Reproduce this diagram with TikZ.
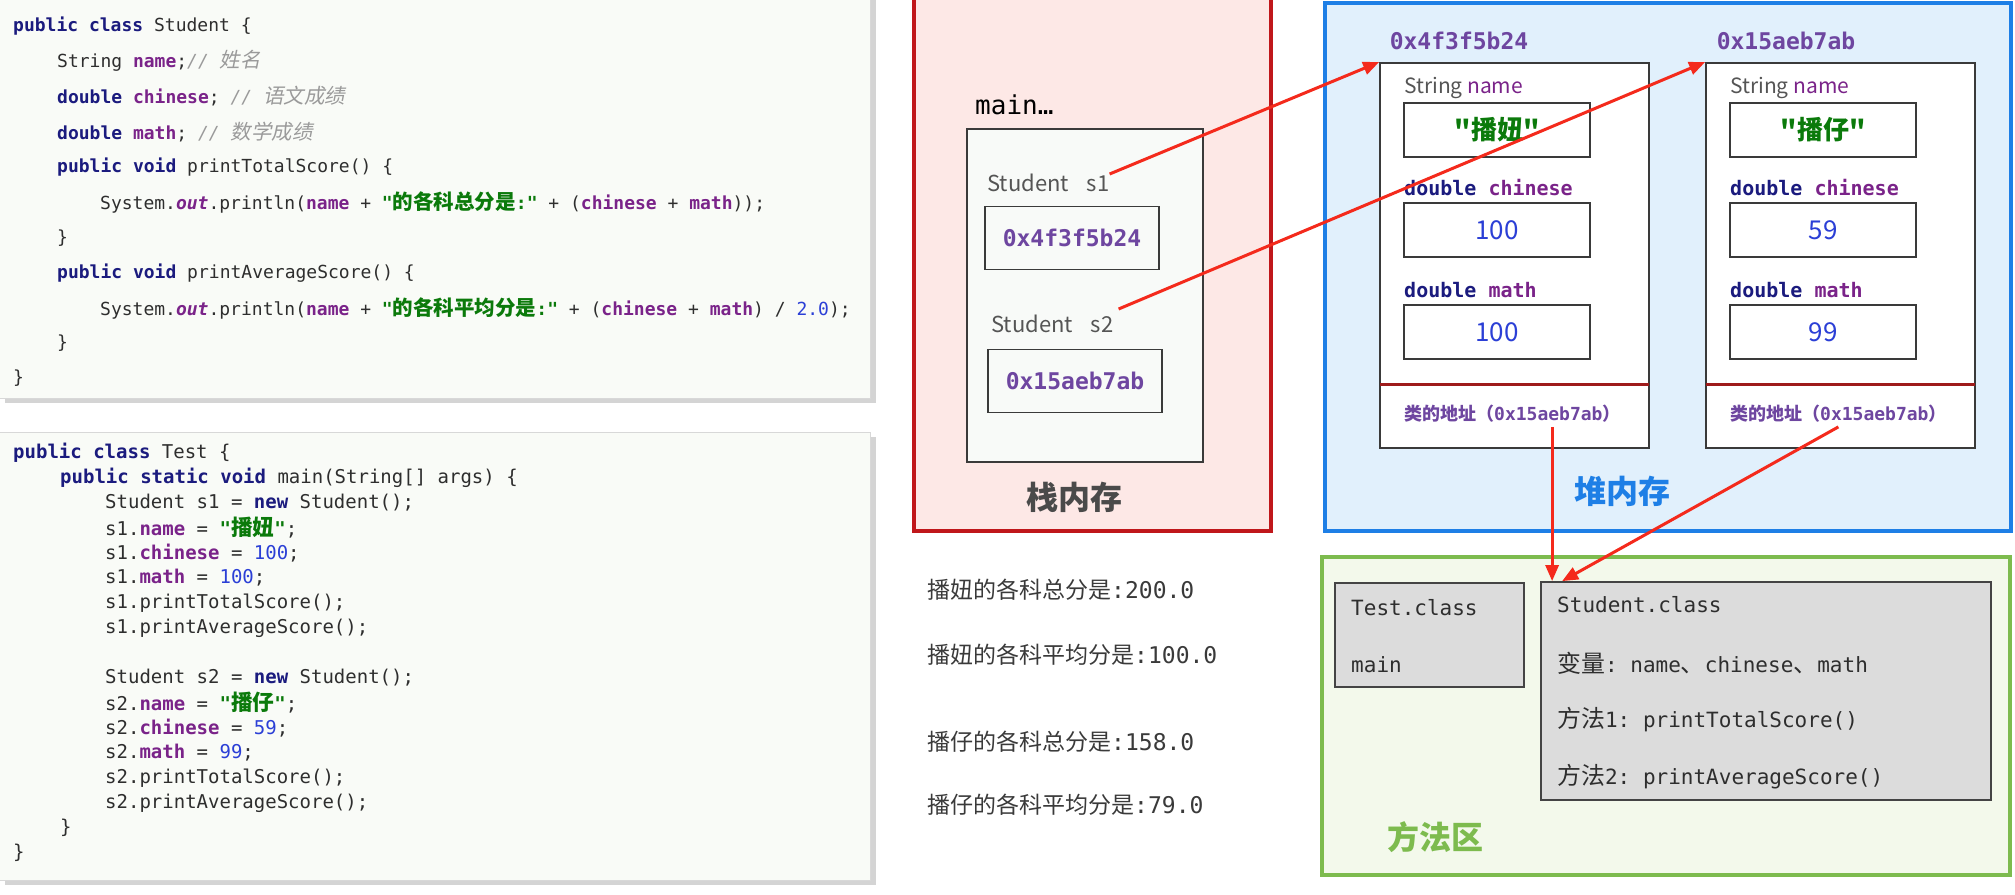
\documentclass[tikz,border=0pt]{standalone}
\usepackage{fontspec}
\setmonofont{DejaVu Sans Mono}
\newfontfamily\cjk{Noto Sans CJK SC}[AutoFakeSlant=0.2]
\newfontfamily\cjkc{Noto Sans CJK SC}[Scale=1.14,AutoFakeSlant=0.2]
\usetikzlibrary{arrows.meta}

\definecolor{stackfill}{HTML}{FDE8E6}
\definecolor{stackred}{HTML}{C0171B}
\definecolor{heapfill}{HTML}{E1F0FC}
\definecolor{heapblue}{HTML}{1E7FE6}
\definecolor{methfill}{HTML}{F3F9EB}
\definecolor{methgreen}{HTML}{7DBB4E}
\definecolor{panelfill}{HTML}{F9FBF7}
\definecolor{panelline}{HTML}{D8D8D8}
\definecolor{panelshadow}{HTML}{D4D4D4}
\definecolor{framefill}{HTML}{F8FAF8}
\definecolor{boxline}{HTML}{3A3A3A}
\definecolor{sepred}{HTML}{9E1B1B}
\definecolor{arrowred}{HTML}{F42A1C}
\definecolor{clsfill}{HTML}{DCDCDC}
\definecolor{clsline}{HTML}{444444}
\definecolor{addrpurple}{HTML}{6E46A0}
\definecolor{fdpurple}{HTML}{7A2389}
\definecolor{kwnavy}{HTML}{1B1B7E}
\definecolor{strgreen}{HTML}{0B7A0B}
\definecolor{numblue}{HTML}{2B3FD6}
\definecolor{cmtgray}{HTML}{9A9A9A}
\definecolor{codetext}{HTML}{2E2E2E}
\definecolor{lblgray}{HTML}{555555}
\definecolor{outgray}{HTML}{3A3A3A}
\definecolor{stackgray}{HTML}{4A4A4A}

\newcommand\zh[1]{{\cjk #1}}
\newcommand\zhc[1]{{\cjkc #1}}
\newcommand\kw[1]{{\bfseries\color{kwnavy}#1}}
\newcommand\fd[1]{{\bfseries\color{fdpurple}#1}}
\newcommand\strg[1]{{\bfseries\color{strgreen}#1}}
\newcommand\numb[1]{{\color{numblue}#1}}
\newcommand\cmt[1]{{\itshape\color{cmtgray}#1}}
\newcommand\outf{{\bfseries\itshape\color{fdpurple}out}}

\tikzset{
  codeA/.style={anchor=west, inner sep=0pt, text=codetext,
    font=\ttfamily\fontsize{18}{20}\selectfont},
  codeB/.style={codeA, font=\ttfamily\fontsize{19}{21}\selectfont},
  varlbl/.style={anchor=west, inner sep=0pt, text=lblgray,
    font=\cjk\fontsize{22}{24}\selectfont},
  addrbox/.style={draw=boxline, line width=1.6pt, minimum width=174pt,
    minimum height=63pt, inner sep=0pt, text=addrpurple,
    font=\ttfamily\bfseries\fontsize{23}{25}\selectfont},
  addrtxt/.style={inner sep=0pt, text=addrpurple,
    font=\ttfamily\bfseries\fontsize{23}{25}\selectfont},
  objbox/.style={draw=boxline, line width=1.8pt, fill=white,
    minimum width=269pt, minimum height=385pt, inner sep=0pt},
  valbox/.style={draw=boxline, line width=1.8pt, minimum width=186pt,
    minimum height=54pt, inner sep=0pt, text=numblue,
    font=\cjk\fontsize{26}{28}\selectfont},
  fldname/.style={anchor=west, inner sep=0pt, text=lblgray,
    font=\cjk\fontsize{21}{23}\selectfont},
  fldtype/.style={anchor=west, inner sep=0pt,
    font=\ttfamily\fontsize{20}{22}\selectfont},
  classaddr/.style={anchor=west, inner sep=0pt, text=addrpurple,
    font=\ttfamily\bfseries\fontsize{18}{20}\selectfont},
  sepline/.style={draw=sepred, line width=3pt},
  areatitle/.style={inner sep=0pt, font=\cjk\bfseries\fontsize{32}{34}\selectfont},
  clsbox/.style={draw=clsline, line width=1.8pt, fill=clsfill, inner sep=0pt},
  clstxt/.style={anchor=west, inner sep=0pt, text=codetext,
    font=\ttfamily\fontsize{21}{23}\selectfont},
  outtxt/.style={anchor=west, inner sep=0pt, text=outgray,
    font=\ttfamily\fontsize{23}{25}\selectfont},
  refarrow/.style={draw=arrowred, line width=3pt,
    -{Triangle[length=16pt,width=13pt]}},
}

\begin{document}
\begin{tikzpicture}[x=1pt,y=-1pt]
  \useasboundingbox (0,0) rectangle (2015,894);

  % code panels
  \fill[panelshadow] (5,-2) rectangle (876,403);
  \filldraw[fill=panelfill, draw=panelline] (-2,-2) rectangle (870,398);
  \fill[panelshadow] (5,437) rectangle (876,885);
  \filldraw[fill=panelfill, draw=panelline] (-2,432) rectangle (870,880);

  \node[codeA] (ca0) at (13,26) {\kw{public class} Student \{};
  \node[codeA] (ca1) at (57,61) {String \fd{name};\cmt{// \zhc{姓名}}};
  \node[codeA] (ca2) at (57,96) {\kw{double} \fd{chinese}; \cmt{// \zhc{语文成绩}}};
  \node[codeA] (ca3) at (57,132) {\kw{double} \fd{math}; \cmt{// \zhc{数学成绩}}};
  \node[codeA] (ca4) at (57,167) {\kw{public void} printTotalScore() \{};
  \node[codeA] (ca5) at (100,202) {System.\outf.println(\fd{name} + \strg{"\zhc{的各科总分是}:"} + (\fd{chinese} + \fd{math}));};
  \node[codeA] (ca6) at (57,238) {\}};
  \node[codeA] (ca7) at (57,273) {\kw{public void} printAverageScore() \{};
  \node[codeA] (ca8) at (100,308) {System.\outf.println(\fd{name} + \strg{"\zhc{的各科平均分是}:"} + (\fd{chinese} + \fd{math}) / \numb{2.0});};
  \node[codeA] (ca9) at (57,343) {\}};
  \node[codeA] (ca10) at (13,378) {\}};

  \node[codeB] (cb0) at (13,453) {\kw{public class} Test \{};
  \node[codeB] (cb1) at (60,478) {\kw{public static void} main(String[] args) \{};
  \node[codeB] (cb2) at (105,503) {Student s1 = \kw{new} Student();};
  \node[codeB] (cb3) at (105,528) {s1.\fd{name} = \strg{"\zhc{播妞}"};};
  \node[codeB] (cb4) at (105,553) {s1.\fd{chinese} = \numb{100};};
  \node[codeB] (cb5) at (105,578) {s1.\fd{math} = \numb{100};};
  \node[codeB] (cb6) at (105,603) {s1.printTotalScore();};
  \node[codeB] (cb7) at (105,628) {s1.printAverageScore();};
  \node[codeB] (cb9) at (105,678) {Student s2 = \kw{new} Student();};
  \node[codeB] (cb10) at (105,703) {s2.\fd{name} = \strg{"\zhc{播仔}"};};
  \node[codeB] (cb11) at (105,728) {s2.\fd{chinese} = \numb{59};};
  \node[codeB] (cb12) at (105,753) {s2.\fd{math} = \numb{99};};
  \node[codeB] (cb13) at (105,778) {s2.printTotalScore();};
  \node[codeB] (cb14) at (105,803) {s2.printAverageScore();};
  \node[codeB] (cb15) at (60,828) {\}};
  \node[codeB] (cb16) at (13,853) {\}};

  % stack
  \filldraw[fill=stackfill, draw=stackred, line width=4pt] (914,-6) rectangle (1271,531);
  \node[anchor=west, inner sep=0pt, font=\ttfamily\fontsize{26}{28}\selectfont]
    (mainlbl) at (975,105) {main…};
  \filldraw[fill=framefill, draw=boxline, line width=1.5pt] (967,129) rectangle (1203,462);
  \node[varlbl] (sone) at (987,183) {Student\hspace{18pt}s1};
  \node[addrbox] (aone) at (1072,238) {0x4f3f5b24};
  \node[varlbl] (stwo) at (991,324) {Student\hspace{18pt}s2};
  \node[addrbox] (atwo) at (1075,381) {0x15aeb7ab};
  \node[areatitle, text=stackgray] (stacklbl) at (1074,497) {栈内存};

  % heap
  \filldraw[fill=heapfill, draw=heapblue, line width=4pt] (1325,3) rectangle (2011,531);
  \node[addrtxt] (hA) at (1459,41) {0x4f3f5b24};
  \node[addrtxt] (hB) at (1786,41) {0x15aeb7ab};
  \foreach \ofs/\oid/\oname/\ochi/\omat in {0/A/{"播妞"}/100/100, 326/B/{"播仔"}/59/99} {
    \node[objbox] (obj\oid) at (1514.5+\ofs,255.5) {};
    \node[fldname] (fn\oid) at (1404+\ofs,88) {String {\color{fdpurple}name}};
    \node[valbox] (vn\oid) at (1497+\ofs,130) {\zh{\bfseries\color{strgreen}\oname}};
    \node[fldtype] (fc\oid) at (1404+\ofs,188) {\kw{double} \fd{chinese}};
    \node[valbox] (vc\oid) at (1497+\ofs,230) {\ochi};
    \node[fldtype] (fm\oid) at (1404+\ofs,290) {\kw{double} \fd{math}};
    \node[valbox] (vm\oid) at (1497+\ofs,332) {\omat};
    \draw[sepline] (1380+\ofs,384) -- (1649+\ofs,384);
    \node[classaddr] (addr\oid) at (1404+\ofs,414) {\zh{类的地址（}0x15aeb7ab\zh{）}};
  }
  \node[areatitle, text=heapblue] (heaplbl) at (1622,491) {堆内存};

  % method area
  \filldraw[fill=methfill, draw=methgreen, line width=4pt] (1322,557) rectangle (2010,875);
  \node[clsbox, minimum width=189pt, minimum height=104pt] (testcls) at (1429.5,635) {};
  \node[clstxt] (tc1) at (1351,608) {Test.class};
  \node[clstxt] (tc2) at (1351,665) {main};
  \node[clsbox, minimum width=450pt, minimum height=218pt] (stucls) at (1766,691) {};
  \node[clstxt] (sc1) at (1557,605) {Student.class};
  \node[clstxt] (sc2) at (1557,663) {\zhc{变量}: name\zhc{、}chinese\zhc{、}math};
  \node[clstxt] (sc3) at (1557,720) {\zhc{方法}1: printTotalScore()};
  \node[clstxt] (sc4) at (1557,777) {\zhc{方法}2: printAverageScore()};
  \node[areatitle, text=methgreen] (methlbl) at (1435,837) {方法区};

  % console output
  \node[outtxt] (o1) at (927,590) {\zh{播妞的各科总分是}:200.0};
  \node[outtxt] (o2) at (927,655) {\zh{播妞的各科平均分是}:100.0};
  \node[outtxt] (o3) at (927,742) {\zh{播仔的各科总分是}:158.0};
  \node[outtxt] (o4) at (927,805) {\zh{播仔的各科平均分是}:79.0};

  % references
  \coordinate (inA) at ([xshift=12pt]stucls.north west);
  \coordinate (inB) at ([xshift=22pt]stucls.north west);
  \draw[refarrow] ([yshift=9pt]sone.east) -- (objA.north west);
  \draw[refarrow] ([xshift=5pt,yshift=15pt]stwo.east) -- (objB.north west);
  \draw[refarrow] ([yshift=-4pt]addrA.south -| inA) -- (inA);
  \draw[refarrow] ([yshift=-4pt]addrB.south) -- (inB);
\end{tikzpicture}
\end{document}
